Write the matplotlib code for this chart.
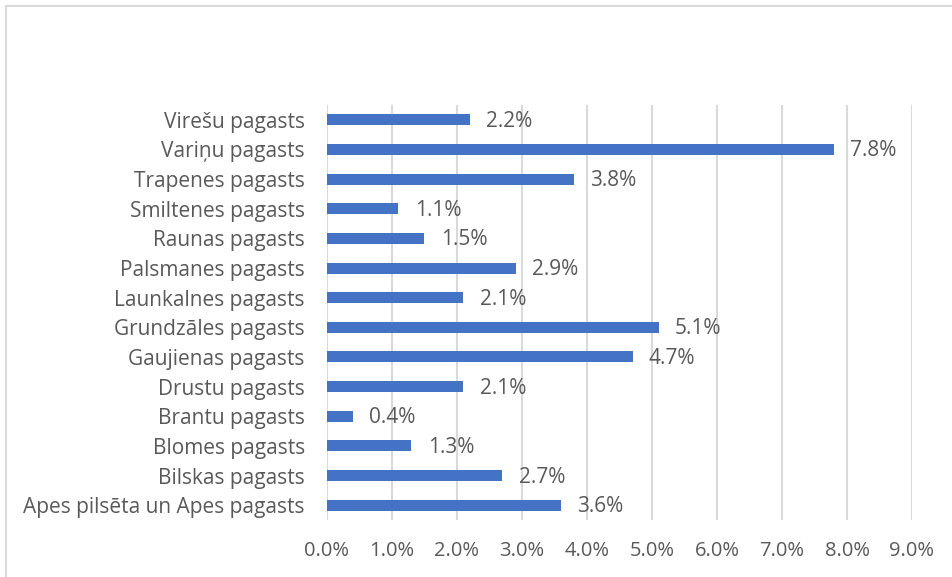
import matplotlib.pyplot as plt
from matplotlib.patches import Rectangle

# Data
categories = ['Apes pilsēta un Apes pagasts', 'Bilskas pagasts', 'Blomes pagasts',
              'Brantu pagasts', 'Drustu pagasts', 'Gaujienas pagasts',
              'Grundzāles pagasts', 'Launkalnes pagasts', 'Palsmanes pagasts',
              'Raunas pagasts', 'Smiltenes pagasts', 'Trapenes pagasts',
              'Variņu pagasts', 'Virešu pagasts']
values = [3.6, 2.7, 1.3, 0.4, 2.1, 4.7, 5.1, 2.1, 2.9, 1.5, 1.1, 3.8, 7.8, 2.2]
xticks = [0, 1, 2, 3, 4, 5, 6, 7, 8, 9]

plt.rcParams['font.family'] = ['Open Sans', 'DejaVu Sans']
grey = '#595959'

fig = plt.figure(figsize=(9.53, 5.77), dpi=100)
ax = fig.add_axes([327/953, 1 - 520/577, (912 - 327)/953, (520 - 105)/577])

# Outer chart border (light grey, cut off at right/bottom)
fig.patches.append(Rectangle((6/953, -0.1), 2, 1.1 - 6/577, transform=fig.transFigure,
                             fill=False, edgecolor='#d9d9d9', linewidth=1.5))

y = range(len(categories))
ax.barh(y, values, height=0.37, color='#4472C4', zorder=3)
for i, v in enumerate(values):
    ax.text(v + 0.25, i - 0.05, f'{v:.1f}%', va='center', ha='left', fontsize=15, color=grey)

ax.set_xlim(0, 9)
ax.set_ylim(-0.5, len(categories) - 0.5)
ax.set_xticks(xticks)
ax.set_xticklabels([f'{t:.1f}%' for t in xticks], fontsize=14.5, color=grey)
ax.set_yticks(list(y))
ax.set_yticklabels(categories, fontsize=15, color=grey)
ax.tick_params(length=0)
ax.tick_params(axis='x', pad=15)
ax.tick_params(axis='y', pad=16)
ax.grid(axis='x', color='#d9d9d9', linewidth=1.5, zorder=0)
for s in ax.spines.values():
    s.set_visible(False)

fig.savefig('out.png', dpi=100)
